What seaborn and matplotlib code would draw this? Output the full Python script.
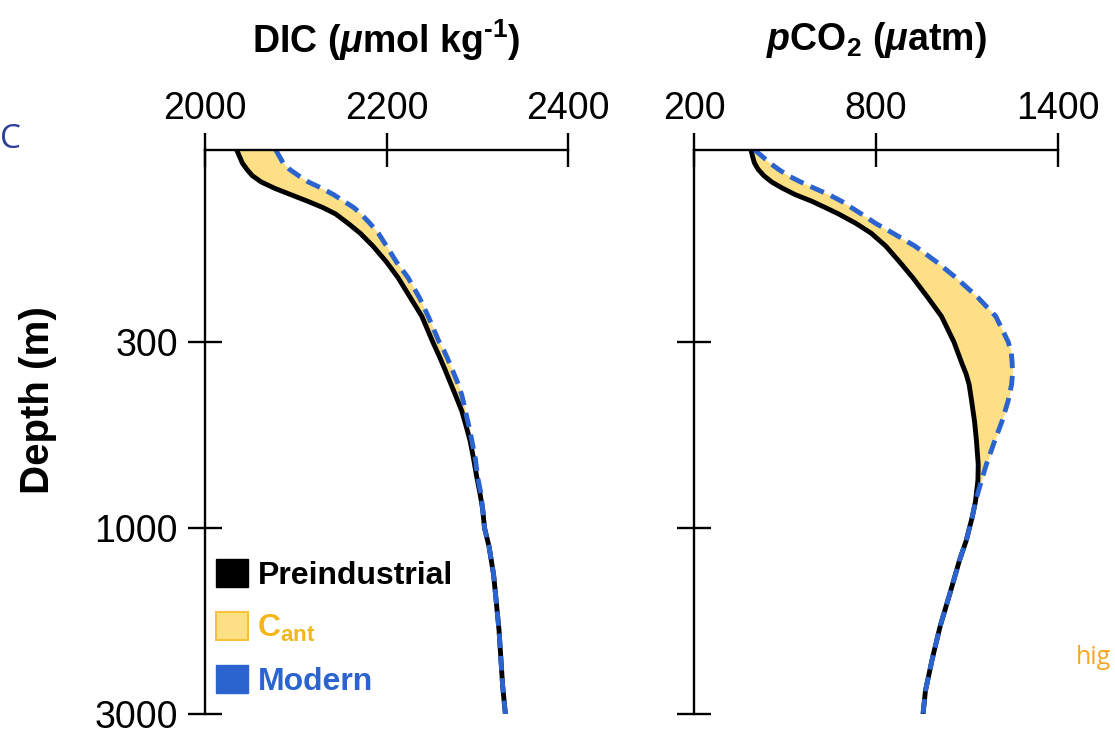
import numpy as np
import pandas as pd
import matplotlib
matplotlib.use("Agg")
import matplotlib.pyplot as plt
from matplotlib.patches import Patch
import seaborn as sns

# ---------------- data ----------------
dic_depth = [0, 10, 20, 30, 40, 50, 60, 70, 80, 90, 100, 115, 130, 150, 175, 200, 230,
             260, 300, 330, 360, 400, 450, 500, 560, 620, 670, 740, 800, 870, 930, 1000,
             1200, 1500, 1800, 2100, 2400, 2700, 3000]
dic_pre = [2035, 2038, 2041, 2046, 2052, 2062, 2077, 2095, 2113, 2130, 2144, 2158, 2171,
           2185, 2200, 2213, 2226, 2239, 2251, 2255, 2259, 2264, 2270, 2276, 2283, 2288,
           2292, 2296, 2299, 2303, 2306, 2308, 2313, 2318, 2321, 2324, 2326, 2328, 2331]
dic_mod = [2078, 2082, 2086, 2093, 2103, 2114, 2129, 2142, 2153, 2164, 2172, 2182, 2191,
           2200, 2211, 2224, 2236, 2246, 2258, 2263, 2267, 2272, 2278, 2283, 2287, 2291,
           2294, 2298, 2300, 2304, 2306, 2308, 2313, 2318, 2321, 2324, 2326, 2328, 2331]

pco2_depth = [0, 10, 20, 30, 40, 50, 60, 70, 80, 90, 100, 115, 130, 150, 175, 200, 230,
              260, 300, 340, 380, 420, 460, 520, 600, 670, 760, 820, 900, 960, 1000, 1130,
              1350, 1700, 2050, 2400, 2750, 3000]
pco2_pre = [388, 393, 399, 411, 430, 456, 493, 535, 588, 633, 677, 735, 784, 832, 878,
            922, 970, 1016, 1057, 1070, 1083, 1097, 1107, 1115, 1125, 1131, 1137, 1136,
            1128, 1117, 1108, 1098, 1075, 1044, 1012, 986, 963, 955]
pco2_mod = [400, 425, 449, 478, 510, 552, 598, 646, 686, 719, 752, 800, 856, 928, 1000,
            1065, 1135, 1195, 1236, 1246, 1249, 1250, 1247, 1236, 1215, 1192, 1164, 1148,
            1128, 1117, 1108, 1098, 1075, 1044, 1012, 986, 963, 955]

depth_ticks = [300, 1000, 3000]
dic_ticks = [2000, 2200, 2400]
pco2_ticks = [200, 800, 1400]
legend_labels = ["Preindustrial", "C$_{ant}$", "Modern"]

# ---------------- style ----------------
sns.set_style("white")
plt.rcParams["font.family"] = ["Liberation Sans", "DejaVu Sans"]
plt.rcParams["text.color"] = "black"
plt.rcParams["axes.labelcolor"] = "black"
plt.rcParams["xtick.color"] = "black"
plt.rcParams["ytick.color"] = "black"
plt.rcParams["mathtext.fontset"] = "custom"
plt.rcParams["mathtext.rm"] = "Liberation Sans:bold"
plt.rcParams["mathtext.it"] = "Liberation Sans:italic:bold"
plt.rcParams["mathtext.bf"] = "Liberation Sans:bold"
plt.rcParams["mathtext.default"] = "regular"

BLACK = "#000000"
BLUE = "#2b64cf"
FILL = "#fddf85"
FILL_EDGE = "#f5c23a"
ORANGE_TXT = "#f3b71c"

# piecewise depth scale (equal spacing between labelled depths)
_D = np.array([0.0, 300.0, 1000.0, 3000.0])
_P = np.array([0.0, 192.0, 378.0, 564.0])


def fwd(d):
    d = np.asarray(d, dtype=float)
    out = np.interp(d, _D, _P)
    out = np.where(d < _D[0], _P[0] + (d - _D[0]) * (_P[1] - _P[0]) / (_D[1] - _D[0]), out)
    out = np.where(d > _D[-1], _P[-1] + (d - _D[-1]) * (_P[-1] - _P[-2]) / (_D[-1] - _D[-2]), out)
    return out


def inv(p):
    p = np.asarray(p, dtype=float)
    out = np.interp(p, _P, _D)
    out = np.where(p < _P[0], _D[0] + (p - _P[0]) * (_D[1] - _D[0]) / (_P[1] - _P[0]), out)
    out = np.where(p > _P[-1], _D[-1] + (p - _P[-1]) * (_D[-1] - _D[-2]) / (_P[-1] - _P[-2]), out)
    return out


W, H = 1115, 736
fig = plt.figure(figsize=(W / 100, H / 100), dpi=100)
ax1 = fig.add_axes([205 / W, (H - 714) / H, 363 / W, 564 / H])
ax2 = fig.add_axes([694 / W, (H - 714) / H, 364 / W, 564 / H])

dic_df = pd.DataFrame({"depth": dic_depth, "pre": dic_pre, "mod": dic_mod})
pco2_df = pd.DataFrame({"depth": pco2_depth, "pre": pco2_pre, "mod": pco2_mod})


def draw(ax, df, xlim, xticks, show_ylabels):
    ax.fill_betweenx(df["depth"], df["pre"], df["mod"], color=FILL, lw=0, zorder=1)
    sns.lineplot(data=df, x="pre", y="depth", orient="y", sort=False, estimator=None,
                 color=BLACK, linewidth=3.5, ax=ax, zorder=3)
    sns.lineplot(data=df, x="mod", y="depth", orient="y", sort=False, estimator=None,
                 color=BLUE, linewidth=3.5, ax=ax, zorder=4)
    for ln in ax.lines:
        ln.set_linewidth(3.5)
        ln.set_solid_joinstyle("round")
        ln.set_solid_capstyle("butt")
    ax.lines[-1].set_dashes((3.0, 1.6))
    ax.lines[-1].set_dash_capstyle("butt")
    ax.set_yscale("function", functions=(fwd, inv))
    ax.set_ylim(3000, 0)
    ax.set_xlim(*xlim)
    ax.set_xticks(xticks)
    ax.set_yticks(depth_ticks)
    ax.xaxis.tick_top()
    ax.set_xlabel("")
    ax.set_ylabel("")
    ax.yaxis.set_minor_locator(matplotlib.ticker.NullLocator())
    if not show_ylabels:
        ax.set_yticklabels([])
    for s in ["right", "bottom"]:
        ax.spines[s].set_visible(False)
    for s in ["top", "left"]:
        ax.spines[s].set_visible(True)
        ax.spines[s].set_linewidth(1.7)
        ax.spines[s].set_color("black")
    ax.tick_params(axis="both", which="major", direction="inout", length=25, width=1.7,
                   color="black", labelsize=27, labelcolor="black")
    ax.tick_params(axis="x", pad=4, top=True, bottom=False)
    ax.tick_params(axis="y", pad=7, left=True, right=False)
    ax.grid(False)
    ax.patch.set_alpha(0)
    for sp in ax.spines.values():
        sp.set_zorder(5)


draw(ax1, dic_df, (2000, 2400), dic_ticks, True)
draw(ax2, pco2_df, (200, 1400), pco2_ticks, False)

# titles
fig.text(386.5 / W, 1 - 40 / H, "DIC ($\\mathit{\\mu}$mol kg$^{\\text{-}1}$)", ha="center",
         va="center", fontsize=27, fontweight="bold", color="black")
fig.text(876 / W, 1 - 40 / H, "$\\mathit{p}$CO$_2$ ($\\mathit{\\mu}$atm)", ha="center",
         va="center", fontsize=27, fontweight="bold", color="black")
fig.text(38 / W, 1 - 400 / H, "Depth (m)", rotation=90, ha="center", va="center",
         fontsize=29, fontweight="bold", color="black")

# legend
handles = [Patch(facecolor=BLACK, edgecolor=BLACK),
           Patch(facecolor=FILL, edgecolor=FILL_EDGE, lw=1.5),
           Patch(facecolor=BLUE, edgecolor=BLUE)]
leg = ax1.legend(handles, legend_labels, loc="lower left", bbox_to_anchor=(0.03, 0.03),
                 frameon=False, prop={"family": "Liberation Sans", "weight": "bold", "size": 23},
                 handlelength=1.0, handleheight=1.0, handletextpad=0.3,
                 labelspacing=0.65, borderpad=0, borderaxespad=0)
for t, c in zip(leg.get_texts(), [BLACK, ORANGE_TXT, BLUE]):
    t.set_color(c)

# slide fragments visible at the edges of the reference
fig.text(0 / W, 1 - 140 / H, "C", ha="left", va="center", fontsize=24,
         color="#2b3f99", family="Open Sans")
fig.text(1076 / W, 1 - 657 / H, "hig", ha="left", va="center", fontsize=18,
         color="#f5a623", family="Open Sans")

fig.savefig("out.png", dpi=100)
